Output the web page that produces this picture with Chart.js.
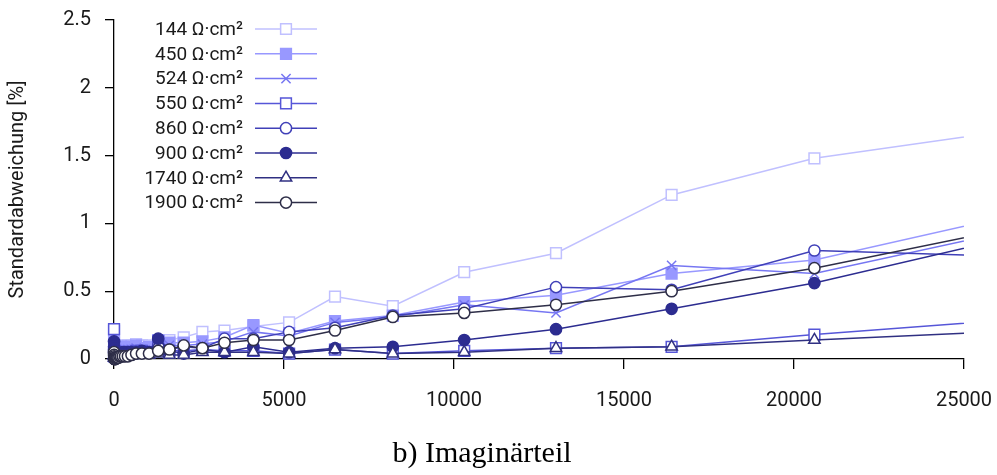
<!DOCTYPE html>
<html><head><meta charset="utf-8">
<script src="https://cdn.jsdelivr.net/npm/chart.js@4.4.0/dist/chart.umd.min.js"></script>
<style>html,body{margin:0;padding:0;background:#fff;}#wrap{width:997px;height:475px;}</style>
</head><body><div id="wrap"><canvas id="c" width="997" height="475"></canvas></div>
<script>
const xValues = [1, 3, 6, 10, 13, 16, 20, 26, 33, 41, 52, 65, 82, 103, 130, 163, 205, 260, 325, 410, 515,
  650, 820, 1030, 1300, 1630, 2050, 2600, 3250, 4100, 5150, 6500, 8200, 10300, 13000, 16400, 20600, 25900];
const seriesLabels = ['144 Ω·cm²', '450 Ω·cm²', '524 Ω·cm²', '550 Ω·cm²', '860 Ω·cm²', '900 Ω·cm²', '1740 Ω·cm²', '1900 Ω·cm²'];
const s144  = [0.05, 0.04, 0.04, 0.04, 0.03, 0.03, 0.03, 0.04, 0.04, 0.05, 0.05, 0.06, 0.06, 0.07, 0.08, 0.08, 0.09, 0.09, 0.10, 0.10, 0.10,
  0.11, 0.10, 0.10, 0.13, 0.14, 0.16, 0.20, 0.21, 0.24, 0.27, 0.46, 0.39, 0.64, 0.78, 1.21, 1.48, 1.67];
const s450  = [0.21, 0.12, 0.08, 0.06, 0.05, 0.05, 0.05, 0.05, 0.05, 0.06, 0.06, 0.06, 0.07, 0.07, 0.08, 0.08, 0.09, 0.09, 0.09, 0.09, 0.09,
  0.10, 0.08, 0.09, 0.14, 0.12, 0.12, 0.13, 0.16, 0.25, 0.19, 0.28, 0.32, 0.42, 0.47, 0.63, 0.73, 1.03];
const s524  = [0.06, 0.05, 0.04, 0.03, 0.03, 0.03, 0.03, 0.03, 0.04, 0.04, 0.04, 0.05, 0.05, 0.05, 0.06, 0.06, 0.06, 0.07, 0.07, 0.07, 0.07,
  0.08, 0.07, 0.07, 0.12, 0.10, 0.10, 0.11, 0.13, 0.20, 0.17, 0.27, 0.31, 0.40, 0.34, 0.69, 0.63, 0.92];
const s550  = [0.22, 0.10, 0.06, 0.04, 0.03, 0.02, 0.02, 0.02, 0.03, 0.03, 0.03, 0.03, 0.04, 0.04, 0.04, 0.04, 0.05, 0.05, 0.05, 0.05, 0.05,
  0.06, 0.06, 0.05, 0.13, 0.06, 0.06, 0.07, 0.06, 0.06, 0.04, 0.07, 0.04, 0.06, 0.08, 0.09, 0.18, 0.28];
const s860  = [0.07, 0.05, 0.04, 0.03, 0.03, 0.02, 0.02, 0.02, 0.02, 0.02, 0.03, 0.03, 0.03, 0.03, 0.03, 0.04, 0.04, 0.04, 0.04, 0.04, 0.04,
  0.04, 0.05, 0.05, 0.10, 0.07, 0.09, 0.08, 0.15, 0.15, 0.20, 0.23, 0.32, 0.37, 0.53, 0.51, 0.80, 0.76];
const s900  = [0.13, 0.09, 0.06, 0.05, 0.04, 0.04, 0.03, 0.03, 0.03, 0.03, 0.03, 0.03, 0.04, 0.04, 0.04, 0.04, 0.04, 0.05, 0.05, 0.05, 0.05,
  0.05, 0.06, 0.05, 0.15, 0.06, 0.04, 0.07, 0.05, 0.09, 0.05, 0.08, 0.09, 0.14, 0.22, 0.37, 0.56, 0.87];
const s1740 = [0.03, 0.02, 0.02, 0.01, 0.01, 0.01, 0.01, 0.01, 0.01, 0.01, 0.01, 0.01, 0.02, 0.02, 0.02, 0.02, 0.02, 0.02, 0.02, 0.02, 0.03,
  0.03, 0.03, 0.03, 0.04, 0.03, 0.03, 0.05, 0.05, 0.05, 0.04, 0.07, 0.04, 0.05, 0.08, 0.09, 0.14, 0.20];
const s1900 = [0.05, 0.03, 0.02, 0.01, 0.00, 0.00, 0.00, 0.00, 0.00, 0.00, 0.01, 0.01, 0.01, 0.01, 0.01, 0.02, 0.02, 0.02, 0.02, 0.02, 0.03,
  0.04, 0.04, 0.04, 0.06, 0.07, 0.10, 0.08, 0.12, 0.14, 0.14, 0.21, 0.31, 0.34, 0.40, 0.50, 0.67, 0.94];
const xTickValues = [0, 5000, 10000, 15000, 20000, 25000];
const xTickLabels = ['0', '5000', '10000', '15000', '20000', '25000'];
const yTickValues = [0, 0.5, 1, 1.5, 2, 2.5];
const yTickLabels = ['0', '0.5', '1', '1.5', '2', '2.5'];

const allSeries = [s144, s450, s524, s550, s860, s900, s1740, s1900];
const colors = ['#c0c0ff', '#9898ff', '#7676f2', '#5656d8', '#4040b8', '#2c2c90', '#303082', '#2e2e48'];
const styles = ['rect', 'rect', 'crossRot', 'rect', 'circle', 'circle', 'triangle', 'circle'];
const filled = [false, true, false, false, false, true, false, false];
const radii = {rect: 7.6, circle: 5.6, crossRot: 6.5, triangle: 6.6};

const datasets = allSeries.map((s, i) => ({
  label: seriesLabels[i],
  data: xValues.map((x, k) => ({x: x, y: s[k]})),
  borderColor: colors[i],
  backgroundColor: colors[i],
  borderWidth: 1.5,
  pointStyle: styles[i],
  pointRadius: radii[styles[i]],
  pointBorderWidth: 1.5,
  pointBorderColor: colors[i],
  pointBackgroundColor: filled[i] ? colors[i] : '#ffffff',
  tension: 0,
  order: allSeries.length - i,
  clip: {left: false, top: false, right: 0, bottom: false}
}));

const legendPlugin = {
  id: 'sideLegend',
  afterDraw(chart) {
    const ctx = chart.ctx;
    ctx.save();
    ctx.font = '19px Roboto';
    ctx.textAlign = 'right';
    ctx.textBaseline = 'middle';
    seriesLabels.forEach((lab, i) => {
      const y = 29 + i * 24.8;
      ctx.fillStyle = '#1a1a1a';
      ctx.fillText(lab, 243, y + 1);
      ctx.strokeStyle = colors[i];
      ctx.lineWidth = 1.5;
      ctx.beginPath(); ctx.moveTo(255, y); ctx.lineTo(317, y); ctx.stroke();
      ctx.fillStyle = filled[i] ? colors[i] : '#ffffff';
      Chart.helpers.drawPoint(ctx, {pointStyle: styles[i], radius: radii[styles[i]], rotation: 0, borderWidth: 1.5}, 286, y);
    });
    ctx.restore();
  }
};

new Chart(document.getElementById('c'), {
  type: 'line',
  data: {datasets: datasets},
  plugins: [legendPlugin],
  options: {
    responsive: false,
    animation: false,
    devicePixelRatio: 1,
    layout: {padding: {top: 20, right: 33, bottom: 0, left: 0}},
    plugins: {
      legend: {display: false},
      tooltip: {enabled: false},
      title: {
        display: true, position: 'bottom', text: 'b) Imaginärteil', color: '#000',
        font: {family: 'Liberation Serif', size: 30, weight: 'normal'},
        padding: {top: 0, bottom: 3}
      }
    },
    scales: {
      x: {
        type: 'linear', min: 0, max: 25000,
        border: {display: true, color: '#000', width: 1.3},
        grid: {display: true, drawOnChartArea: false, drawTicks: true, tickLength: 10, color: '#000', lineWidth: 1.3},
        afterBuildTicks: (s) => { s.ticks = xTickValues.map(v => ({value: v})); },
        ticks: {padding: 20, color: '#1a1a1a', font: {family: 'Roboto', size: 20}, maxRotation: 0,
          callback: (v) => xTickLabels[xTickValues.indexOf(v)]},
        afterFit: (s) => { s.height = 77; s.paddingLeft = 0; s.paddingRight = 30; }
      },
      y: {
        type: 'linear', min: 0, max: 2.5,
        border: {display: true, color: '#000', width: 1.3},
        grid: {display: true, drawOnChartArea: false, drawTicks: true, tickLength: 9, color: '#000', lineWidth: 1.3},
        afterBuildTicks: (s) => { s.ticks = yTickValues.map(v => ({value: v})); },
        ticks: {padding: 14, color: '#1a1a1a', font: {family: 'Roboto', size: 20},
          callback: (v) => yTickLabels[yTickValues.indexOf(v)]},
        title: {display: true, text: 'Standardabweichung [%]', color: '#1a1a1a',
          font: {family: 'Roboto', size: 20}, padding: {top: 6, bottom: 0}},
        afterFit: (s) => { s.width = 114; s.paddingTop = 10; s.paddingBottom = 10; }
      }
    }
  }
});
</script>
</body></html>
